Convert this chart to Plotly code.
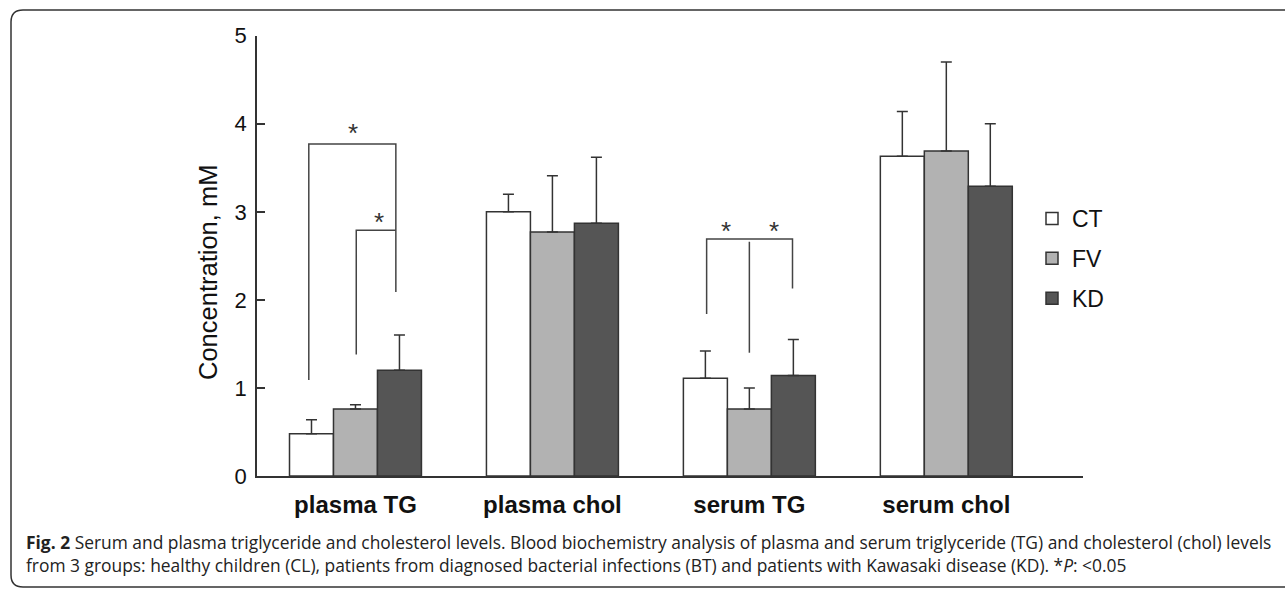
import plotly.graph_objects as go

W, H = 1285, 590

categories = ["plasma TG", "plasma chol", "serum TG", "serum chol"]
groups = ["CT", "FV", "KD"]
means = {
    "CT": [0.48, 3.00, 1.11, 3.63],
    "FV": [0.76, 2.77, 0.76, 3.69],
    "KD": [1.20, 2.87, 1.14, 3.29],
}
errors = {
    "CT": [0.16, 0.20, 0.31, 0.51],
    "FV": [0.05, 0.64, 0.24, 1.01],
    "KD": [0.40, 0.75, 0.41, 0.71],
}
colors = {"CT": "#ffffff", "FV": "#b2b2b2", "KD": "#555555"}
yticks = [0, 1, 2, 3, 4, 5]
y_title = "Concentration, mM"

# significance brackets: (category index, list of polylines as (x offset, y) pairs)
brackets = [
    (0, [[(-0.237, 1.09), (-0.237, 3.77), (0.205, 3.77), (0.205, 2.09)]]),
    (0, [[(0.004, 1.38), (0.004, 2.79), (0.205, 2.79)]]),
    (2, [[(-0.217, 1.84), (-0.217, 2.69), (0.219, 2.69), (0.219, 2.13)],
         [(0.0, 2.66), (0.0, 1.40)]]),
]
stars = [(0, -0.013, 3.95), (0, 0.119, 2.94), (2, -0.117, 2.84), (2, 0.123, 2.84)]

xs = list(range(len(categories)))
fig = go.Figure()
for i, g in enumerate(groups):
    fig.add_trace(go.Bar(
        x=xs, y=means[g], name=g, legendgroup=g,
        marker=dict(color=colors[g], line=dict(color="#333333", width=1.5)),
        error_y=dict(type="data", array=errors[g], arrayminus=[0] * 4, symmetric=False,
                     color="#333333", thickness=1.5, width=5.5),
    ))

def px_x(v):
    return v / W

def px_y(v):
    return 1 - v / H

shapes = []
for cat, lines in brackets:
    for line in lines:
        path = "M" + " L".join(f"{cat + dx},{y}" for dx, y in line)
        shapes.append(dict(type="path", path=path, xref="x", yref="y",
                           line=dict(color="#444444", width=1.5)))

# rounded frame
x0, y0, x1, y1, r = 11, 10, 1300, 587, 12
frame = (f"M{px_x(x0)},{px_y(y0 + r)} Q{px_x(x0)},{px_y(y0)} {px_x(x0 + r)},{px_y(y0)} "
         f"L{px_x(x1)},{px_y(y0)} M{px_x(x0)},{px_y(y0 + r)} L{px_x(x0)},{px_y(y1 - r)} "
         f"Q{px_x(x0)},{px_y(y1)} {px_x(x0 + r)},{px_y(y1)} L{px_x(x1)},{px_y(y1)}")
shapes.append(dict(type="path", path=frame, xref="paper", yref="paper",
                   line=dict(color="#333333", width=1.5)))

annotations = []
for cat, dx, y in stars:
    annotations.append(dict(x=cat + dx, y=y, xref="x", yref="y", text="*", showarrow=False,
                            font=dict(family="Liberation Sans, Arial", size=26, color="#333333"),
                            yanchor="middle", yshift=-5))
annotations.append(dict(x=px_x(208), y=px_y(273), xref="paper", yref="paper", text=y_title,
                        textangle=-90, showarrow=False, xanchor="center", yanchor="middle",
                        font=dict(family="Liberation Sans, Arial", size=25.5, color="#111111")))
caption = ("<b>Fig. 2</b> Serum and plasma triglyceride and cholesterol levels. Blood biochemistry analysis "
           "of plasma and serum triglyceride (TG) and cholesterol (chol) levels<br>from 3 groups: healthy "
           "children (CL), patients from diagnosed bacterial infections (BT) and patients with Kawasaki "
           "disease (KD). *<i>P</i>: &lt;0.05")
annotations.append(dict(x=px_x(24), y=px_y(528), xref="paper", yref="paper", xanchor="left",
                        yanchor="top", align="left", text=caption, showarrow=False,
                        font=dict(family="Open Sans", size=17.4, color="#222222")))

fig.update_layout(
    width=W, height=H,
    margin=dict(l=0, r=0, t=0, b=0, autoexpand=False),
    paper_bgcolor="white", plot_bgcolor="white",
    barmode="group", bargap=0.33, bargroupgap=0,
    font=dict(family="Liberation Sans, Arial", color="#111111"),
    shapes=shapes, annotations=annotations,
    showlegend=True,
    legend=dict(x=px_x(1032), y=px_y(197), xanchor="left", yanchor="top",
                font=dict(size=23, color="#111111"), tracegroupgap=7,
                bgcolor="rgba(0,0,0,0)", traceorder="grouped"),
    xaxis=dict(domain=[px_x(257), px_x(1083)], range=[-0.5, 3.694], automargin=False,
               tickvals=xs, ticktext=categories, showline=True, linecolor="#333333",
               linewidth=1.5, ticks="", showgrid=False, zeroline=False,
               tickfont=dict(size=24, color="#111111", weight="bold"), ticklabelstandoff=6),
    yaxis=dict(domain=[1 - 476 / H, 1 - 35.7 / H], range=[0, 5], tickvals=yticks, automargin=False,
               showline=True, linecolor="#333333", linewidth=1.5, ticks="inside",
               ticklen=8, tickcolor="#333333", tickwidth=1.5, showgrid=False, zeroline=False,
               tickfont=dict(size=22, color="#111111"), ticklabelstandoff=4),
)

fig.write_html("out.html")
